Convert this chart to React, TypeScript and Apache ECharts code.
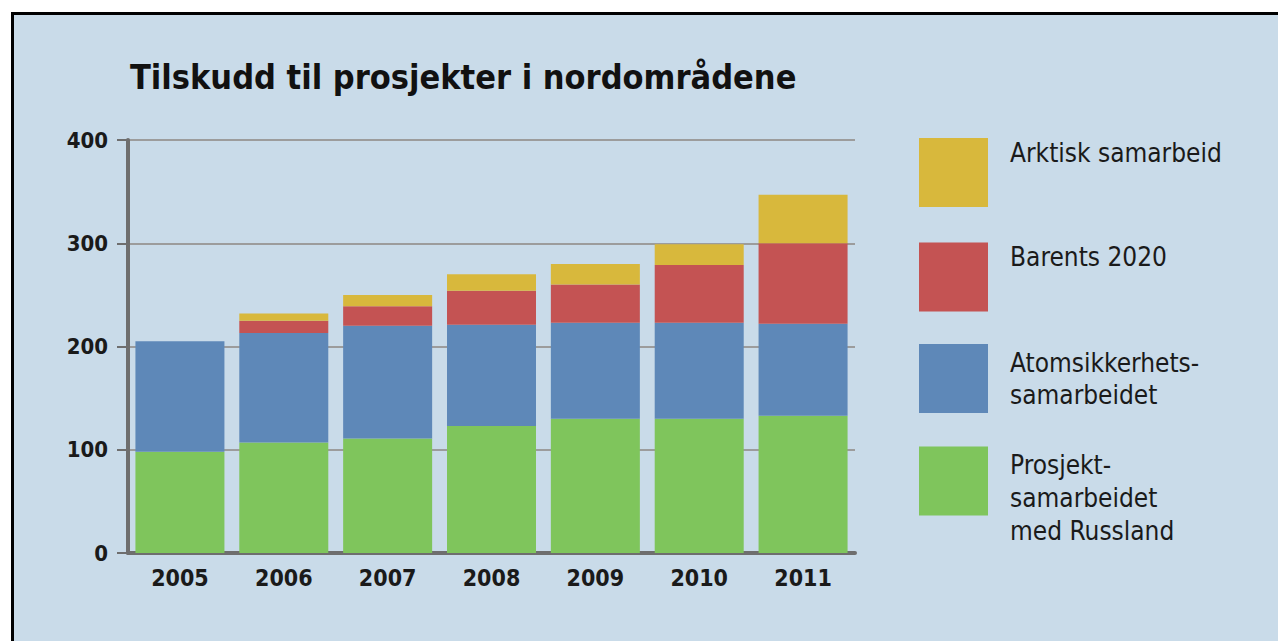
import React, { useEffect, useRef } from "react";
import * as echarts from "echarts";

const years = ["2005", "2006", "2007", "2008", "2009", "2010", "2011"];
const prosjekt = [98, 107, 111, 123, 130, 130, 133];
const atom = [107, 106, 109, 98, 93, 93, 89];
const barents = [0, 12, 19, 33, 37, 56, 78];
const arktisk = [0, 7, 11, 16, 20, 20, 47];
const yTicks = [0, 100, 200, 300, 400];

const NAME_ARK = "Arktisk samarbeid";
const NAME_BAR = "Barents 2020";
const NAME_ATOM = "Atomsikkerhets-\nsamarbeidet";
const NAME_PRO = "Prosjekt-\nsamarbeidet\nmed Russland";

const FONT = "'Liberation Sans Narrow', 'DejaVu Sans Condensed', 'Liberation Sans', sans-serif";
const C_YEL = "#d8b83c";
const C_RED = "#c45353";
const C_BLUE = "#5e88b8";
const C_GREEN = "#7fc55c";

export default function App() {
  const ref = useRef<HTMLDivElement>(null);
  useEffect(() => {
    if (!ref.current) return;
    const chart = echarts.init(ref.current, null, { renderer: "svg" });
    const mkLegend = (
      name: string,
      top: number,
      lineHeight: number,
      pre: string,
      post: string
    ) => ({
      orient: "vertical",
      left: 919,
      top,
      padding: 0,
      itemWidth: 69,
      itemHeight: 69,
      selectedMode: false,
      icon: "rect",
      data: [name],
      formatter: (n: string) => pre + n + post,
      textStyle: {
        fontFamily: FONT,
        fontSize: 26,
        lineHeight,
        color: "#1a1a1a",
        padding: [0, 0, 0, 17],
      },
    });
    chart.setOption({
      animation: false,
      backgroundColor: "transparent",
      title: {
        text: "Tilskudd til prosjekter i nordområdene",
        left: 130,
        top: 60,
        padding: 0,
        textStyle: { fontFamily: FONT, fontSize: 34, fontWeight: "bold", color: "#111" },
      },
      legend: [
        mkLegend(NAME_ARK, 133.5, 39, "", "\n"),
        mkLegend(NAME_BAR, 237, 40, "", "\n"),
        mkLegend(NAME_ATOM, 344, 32, "", ""),
        mkLegend(NAME_PRO, 415, 33, "\n", ""),
      ],
      grid: { left: 128, right: 423, top: 140, bottom: 88 },
      xAxis: {
        type: "category",
        data: years,
        axisLine: { lineStyle: { color: "#6e6e6e", width: 4 } },
        axisTick: { show: false },
        axisLabel: { fontFamily: FONT, fontSize: 23, fontWeight: "bold", color: "#1a1a1a", margin: 13 },
      },
      yAxis: {
        type: "value",
        min: yTicks[0],
        max: yTicks[yTicks.length - 1],
        interval: 100,
        axisLine: { show: true, lineStyle: { color: "#6e6e6e", width: 4 } },
        axisTick: { show: true, length: 11, lineStyle: { color: "#6e6e6e", width: 2 } },
        splitLine: { lineStyle: { color: "#9c9c9c", width: 2 } },
        axisLabel: { fontFamily: FONT, fontSize: 22, fontWeight: "bold", color: "#1a1a1a", margin: 20 },
      },
      series: [
        { name: NAME_PRO, type: "bar", stack: "t", data: prosjekt, barWidth: 89, itemStyle: { color: C_GREEN } },
        { name: NAME_ATOM, type: "bar", stack: "t", data: atom, barWidth: 89, itemStyle: { color: C_BLUE } },
        { name: NAME_BAR, type: "bar", stack: "t", data: barents, barWidth: 89, itemStyle: { color: C_RED } },
        { name: NAME_ARK, type: "bar", stack: "t", data: arktisk, barWidth: 89, itemStyle: { color: C_YEL } },
      ],
    });
    return () => chart.dispose();
  }, []);
  return (
    <div style={{ position: "fixed", left: 0, top: 0, width: 1278, height: 641, background: "#fff", overflow: "hidden" }}>
      <div
        style={{
          position: "absolute",
          left: 11,
          top: 12,
          right: 0,
          bottom: 0,
          borderTop: "3px solid #000",
          borderLeft: "3px solid #000",
          background: "#c9dbe9",
        }}
      />
      <div ref={ref} style={{ position: "absolute", left: 0, top: 0, width: 1278, height: 641 }} />
    </div>
  );
}
